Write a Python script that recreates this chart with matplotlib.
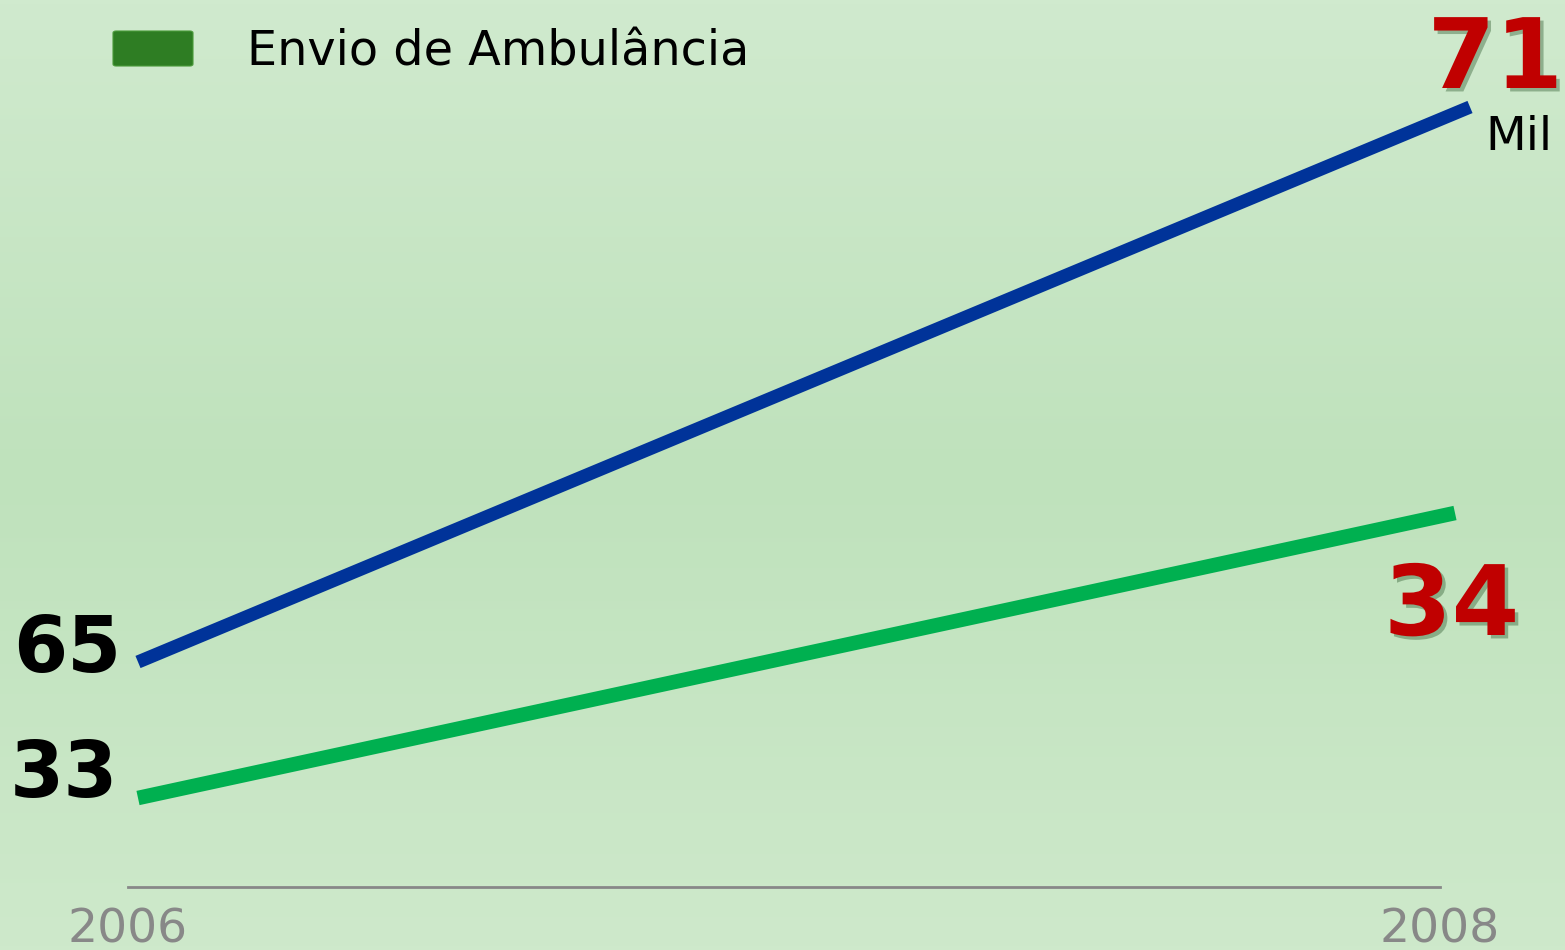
import numpy as np
import matplotlib
matplotlib.use("Agg")
import matplotlib.pyplot as plt
import matplotlib.patheffects as pe
from matplotlib.patches import FancyBboxPatch

# ---- data ----
years = [2006, 2008]
series_total = [65, 71]          # blue line (total, mil)
series_ambulancia = [33, 34]     # green line (Envio de Ambulância)
legend_label = "Envio de Ambulância"
unit_label = "Mil"
tick_labels = ["2006", "2008"]

W, H, DPI = 1565, 950, 100
plt.rcParams['font.family'] = ['DejaVu Sans']
fig = plt.figure(figsize=(W / DPI, H / DPI), dpi=DPI)

# ---- background gradient ----
bg = fig.add_axes([0, 0, 1, 1], zorder=0)
top = np.array([208, 234, 206]) / 255
mid = np.array([191, 226, 188]) / 255
bot = np.array([206, 233, 203]) / 255
t = np.linspace(0, 1, 256)[:, None]
cols = np.where(t < 0.5, top + (mid - top) * (t / 0.5), mid + (bot - mid) * ((t - 0.5) / 0.5))
bg.imshow(cols[:, None, :], aspect='auto', extent=[0, 1, 0, 1])
bg.set_axis_off()


def overlay_axes(x_anchor, y_anchor, z):
    """Full-figure transparent axes whose limits map data anchors to pixel anchors."""
    (xa, pxa), (xb, pxb) = x_anchor
    (ya, pya), (yb, pyb) = y_anchor
    sx = (pxb - pxa) / (xb - xa)
    x0 = xa - pxa / sx
    ky = (pya - pyb) / (yb - ya)
    y0 = ya - (H - pya) / ky
    ax = fig.add_axes([0, 0, 1, 1], zorder=z)
    ax.set_xlim(x0, x0 + W / sx)
    ax.set_ylim(y0, y0 + H / ky)
    ax.set_axis_off()
    ax.patch.set_alpha(0)
    return ax


# ---- base axis (x baseline with year labels) ----
base = fig.add_axes([128 / W, (H - 887) / H, (1440 - 128) / W, 887 / H], zorder=1)
base.patch.set_alpha(0)
base.set_xlim(years[0], years[-1])
base.set_ylim(0, 1)
for s in ['top', 'left', 'right']:
    base.spines[s].set_visible(False)
base.spines['bottom'].set_color('#888888')
base.spines['bottom'].set_linewidth(2)
base.set_yticks([])
base.set_xticks(years)
base.set_xticklabels(tick_labels)
base.tick_params(axis='x', length=0, pad=15, labelsize=34, labelcolor='#888888')

# ---- blue series ----
axb = overlay_axes(((years[0], 138), (years[-1], 1470)),
                   ((series_total[0], 662), (series_total[-1], 107)), 2)
axb.plot(years, series_total, color='#003399', lw=9.5, solid_capstyle='butt')

# ---- green series ----
axg = overlay_axes(((years[0], 138), (years[-1], 1455)),
                   ((series_ambulancia[0], 798), (series_ambulancia[-1], 513)), 3)
axg.plot(years, series_ambulancia, color='#00b050', lw=10.5, solid_capstyle='butt')

shadow = [pe.SimplePatchShadow(offset=(2.5, -2.5), shadow_rgbFace='#2f5a2f', alpha=0.4), pe.Normal()]

# start labels
axb.annotate(str(series_total[0]), (years[0], series_total[0]), xytext=(-17, -10),
             textcoords='offset pixels', ha='right', va='baseline',
             fontsize=56, fontweight='bold', color='black')
axg.annotate(str(series_ambulancia[0]), (years[0], series_ambulancia[0]), xytext=(-20, 1),
             textcoords='offset pixels', ha='right', va='baseline',
             fontsize=56, fontweight='bold', color='black')

# end labels
axb.annotate(str(series_total[-1]), (years[-1], series_total[-1]), xytext=(93, 19),
             textcoords='offset pixels', ha='right', va='baseline',
             fontsize=70, fontweight='bold', color='#c00000', path_effects=shadow,
             annotation_clip=False)
axb.annotate(unit_label, (years[-1], series_total[-1]), xytext=(15, -43),
             textcoords='offset pixels', ha='left', va='baseline',
             fontsize=34, color='black')
axg.annotate(str(series_ambulancia[-1]), (years[-1], series_ambulancia[-1]), xytext=(-71, -122),
             textcoords='offset pixels', ha='left', va='baseline',
             fontsize=70, fontweight='bold', color='#c00000', path_effects=shadow)

# ---- legend ----
fig.patches.append(FancyBboxPatch((113 / W, 1 - 66 / H), 80 / W, 35 / H,
                                  boxstyle='round,pad=0,rounding_size=0.002',
                                  transform=fig.transFigure, facecolor='#2e7d23',
                                  edgecolor='#4a9a3a', linewidth=0.8, zorder=5))
fig.text(247 / W, 1 - 66 / H, legend_label, fontsize=34.4, color='black',
         ha='left', va='baseline', zorder=5)

fig.savefig('out.png', dpi=DPI)
